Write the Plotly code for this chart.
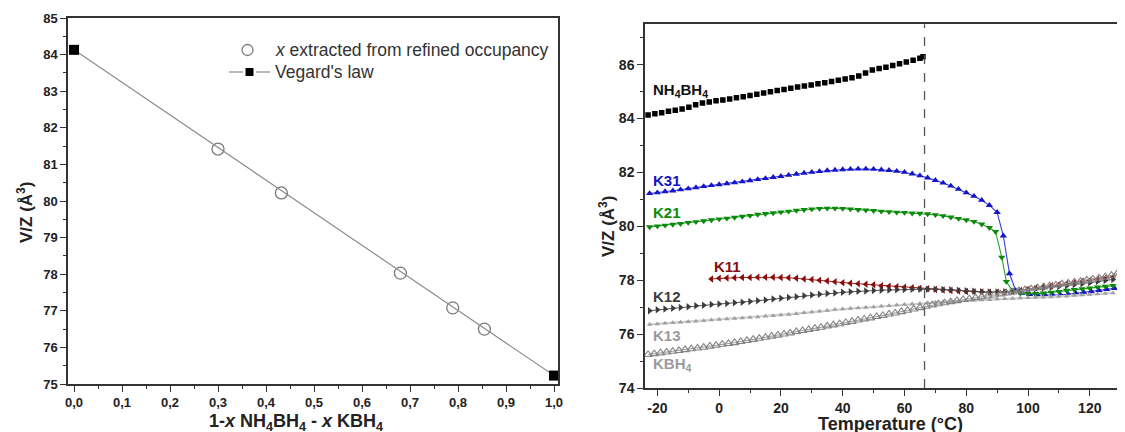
import plotly.graph_objects as go

# ---------------- Left panel data ----------------
occ_x = [0.30, 0.432, 0.68, 0.789, 0.855]
occ_v = [81.42, 80.22, 78.03, 77.08, 76.50]
veg_x = [0.0, 1.0]
veg_v = [84.13, 75.23]
left_xticks = [0.0, 0.1, 0.2, 0.3, 0.4, 0.5, 0.6, 0.7, 0.8, 0.9, 1.0]
left_xticktext = ["0,0", "0,1", "0,2", "0,3", "0,4", "0,5", "0,6", "0,7", "0,8", "0,9", "1,0"]
left_yticks = [75, 76, 77, 78, 79, 80, 81, 82, 83, 84, 85]
legend_labels = ["<i>x</i> extracted from refined occupancy", "Vegard's law"]

# ---------------- Right panel data ----------------
t_nh4 = [-23.0, -20.8, -18.6, -16.4, -14.2, -12.0, -9.8, -7.6, -5.4, -3.2, -1.0,
         1.2, 3.4, 5.6, 7.8, 10.0, 12.2, 14.4, 16.6, 18.8, 21.0, 23.2, 25.4,
         27.6, 29.8, 32.0, 34.2, 36.4, 38.6, 40.8, 43.0, 45.2, 47.4, 49.6,
         51.8, 54.0, 56.2, 58.4, 60.6, 62.8, 65.0, 66.0]
v_nh4 = [84.13, 84.18, 84.22, 84.27, 84.31, 84.36, 84.42, 84.51, 84.58, 84.62, 84.66,
         84.69, 84.73, 84.77, 84.81, 84.86, 84.90, 84.95, 85.00, 85.04, 85.08, 85.13,
         85.17, 85.21, 85.25, 85.29, 85.33, 85.38, 85.42, 85.47, 85.52, 85.58, 85.69,
         85.80, 85.86, 85.91, 85.97, 86.04, 86.10, 86.17, 86.24, 86.30]

t_k31 = [-22.5, -20, -17.5, -15, -12.5, -10, -7.5, -5, -2.5, 0, 2.5, 5, 7.5, 10,
         12.5, 15, 17.5, 20, 22.5, 25, 27.5, 30, 32.5, 35, 37.5, 40, 42.5, 45,
         47.5, 50, 52.5, 55, 57.5, 60, 62.5, 65, 67.5, 70, 72.5, 75, 77.5, 80,
         82.5, 85, 87.5, 90, 92, 94, 96, 98, 100.5, 103, 105.5, 108, 110.5, 113,
         115.5, 118, 120.5, 123, 125.5, 128]
v_k31 = [81.22, 81.25, 81.29, 81.32, 81.36, 81.40, 81.44, 81.48, 81.52, 81.55, 81.59,
         81.62, 81.66, 81.70, 81.74, 81.78, 81.82, 81.86, 81.90, 81.94, 81.98, 82.01,
         82.04, 82.07, 82.09, 82.11, 82.12, 82.13, 82.13, 82.12, 82.10, 82.08, 82.05,
         82.01, 81.95, 81.88, 81.80, 81.71, 81.61, 81.50, 81.38, 81.25, 81.12, 80.97,
         80.78, 80.52, 79.65, 78.25, 77.62, 77.52, 77.48, 77.46, 77.45, 77.45, 77.46,
         77.48, 77.52, 77.55, 77.58, 77.62, 77.66, 77.70]

t_k21 = [-22.5, -20, -17.5, -15, -12.5, -10, -7.5, -5, -2.5, 0, 2.5, 5, 7.5, 10,
         12.5, 15, 17.5, 20, 22.5, 25, 27.5, 30, 32.5, 35, 37.5, 40, 42.5, 45,
         47.5, 50, 52.5, 55, 57.5, 60, 62.5, 65, 67.5, 70, 72.5, 75, 77.5, 80,
         82.5, 85, 87.5, 89.5, 91.5, 93, 95, 97.5, 100, 102.5, 105, 107.5, 110,
         112.5, 115, 117.5, 120, 122.5, 125, 127.5]
v_k21 = [79.98, 80.01, 80.04, 80.07, 80.10, 80.14, 80.17, 80.20, 80.24, 80.27, 80.30,
         80.33, 80.37, 80.40, 80.44, 80.47, 80.50, 80.53, 80.56, 80.59, 80.62, 80.64,
         80.66, 80.67, 80.67, 80.66, 80.64, 80.62, 80.60, 80.58, 80.56, 80.54, 80.52,
         80.51, 80.49, 80.48, 80.46, 80.43, 80.39, 80.34, 80.29, 80.24, 80.18, 80.08,
         79.95, 79.80, 78.85, 77.95, 77.60, 77.52, 77.50, 77.50, 77.52, 77.55, 77.58,
         77.62, 77.65, 77.68, 77.71, 77.74, 77.77, 77.80]

t_k11 = [-2.5, 0, 2.5, 5, 7.5, 10, 12.5, 15, 17.5, 20, 22.5, 25, 27.5, 30, 32.5,
         35, 37.5, 40, 42.5, 45, 47.5, 50, 52.5, 55, 57.5, 60, 62.5, 65, 67.5, 70,
         72.5, 75, 77.5, 80, 82.5, 85, 87.5, 90, 92.5, 95, 97.5, 100, 102.5, 105,
         107.5, 110, 112.5, 115, 117.5, 120, 122.5, 125, 127.5]
v_k11 = [78.05, 78.07, 78.08, 78.09, 78.10, 78.10, 78.11, 78.11, 78.11, 78.10, 78.09,
         78.07, 78.05, 78.03, 78.00, 77.97, 77.94, 77.91, 77.89, 77.87, 77.85, 77.83,
         77.80, 77.78, 77.76, 77.74, 77.72, 77.70, 77.68, 77.66, 77.64, 77.62, 77.60,
         77.58, 77.57, 77.56, 77.55, 77.55, 77.56, 77.58, 77.62, 77.67, 77.72, 77.76,
         77.80, 77.84, 77.88, 77.92, 77.96, 78.00, 78.04, 78.08, 78.12]

t_k12 = [-22.5, -20, -17.5, -15, -12.5, -10, -7.5, -5, -2.5, 0, 2.5, 5, 7.5, 10,
         12.5, 15, 17.5, 20, 22.5, 25, 27.5, 30, 32.5, 35, 37.5, 40, 42.5, 45,
         47.5, 50, 52.5, 55, 57.5, 60, 62.5, 65, 67.5, 70, 72.5, 75, 77.5, 80,
         82.5, 85, 87.5, 90, 92.5, 95, 97.5, 100, 102.5, 105, 107.5, 110, 112.5,
         115, 117.5, 120, 122.5, 125, 127.5]
v_k12 = [76.87, 76.90, 76.93, 76.96, 76.99, 77.02, 77.05, 77.07, 77.10, 77.12, 77.14,
         77.16, 77.18, 77.21, 77.24, 77.27, 77.30, 77.33, 77.36, 77.39, 77.42, 77.45,
         77.48, 77.51, 77.53, 77.55, 77.57, 77.59, 77.60, 77.62, 77.63, 77.64, 77.65,
         77.66, 77.67, 77.67, 77.67, 77.67, 77.66, 77.65, 77.63, 77.61, 77.59, 77.57,
         77.56, 77.56, 77.57, 77.59, 77.62, 77.65, 77.68, 77.71, 77.74, 77.77, 77.80,
         77.84, 77.87, 77.91, 77.95, 77.99, 78.03]

t_k13 = t_k12
v_k13 = [76.36, 76.38, 76.40, 76.42, 76.44, 76.46, 76.48, 76.50, 76.52, 76.54, 76.56,
         76.58, 76.60, 76.62, 76.64, 76.66, 76.68, 76.71, 76.73, 76.76, 76.79, 76.82,
         76.85, 76.88, 76.91, 76.93, 76.95, 76.97, 76.99, 77.01, 77.03, 77.05, 77.08,
         77.10, 77.12, 77.14, 77.16, 77.18, 77.20, 77.21, 77.23, 77.25, 77.26, 77.27,
         77.28, 77.30, 77.31, 77.32, 77.34, 77.35, 77.36, 77.37, 77.38, 77.40, 77.41,
         77.43, 77.45, 77.47, 77.49, 77.51, 77.53]

t_kbh4 = [-23, -21, -19, -17, -15, -13, -11, -9, -7, -5, -3, -1, 1, 3, 5, 7, 9,
          11, 13, 15, 17, 19, 21, 23, 25, 27, 29, 31, 33, 35, 37, 39, 41, 43, 45,
          47, 49, 51, 53, 55, 57, 59, 61, 63, 65, 67, 69, 71, 73, 75, 77, 79, 81,
          83, 85, 87, 89, 91, 93, 95, 97, 99, 101, 103, 105, 107, 109, 111, 113,
          115, 117, 119, 121, 123, 125, 127, 129]
v_kbh4 = [75.24, 75.27, 75.30, 75.33, 75.36, 75.39, 75.42, 75.45, 75.48, 75.51, 75.55,
          75.58, 75.62, 75.65, 75.68, 75.72, 75.76, 75.80, 75.84, 75.88, 75.92, 75.96,
          76.00, 76.04, 76.09, 76.13, 76.17, 76.21, 76.25, 76.30, 76.34, 76.38, 76.43,
          76.47, 76.52, 76.56, 76.60, 76.65, 76.69, 76.74, 76.78, 76.83, 76.88, 76.93,
          76.98, 77.03, 77.08, 77.12, 77.16, 77.20, 77.24, 77.28, 77.31, 77.35, 77.38,
          77.42, 77.45, 77.49, 77.52, 77.56, 77.60, 77.64, 77.68, 77.72, 77.75, 77.79,
          77.82, 77.86, 77.89, 77.93, 77.96, 78.00, 78.04, 78.08, 78.12, 78.18, 78.26]

right_xticks = [-20, 0, 20, 40, 60, 80, 100, 120]
right_xticktext = ["-20", "0", "20", "40", "60", "80", "100", "120"]
right_yticks = [74, 76, 78, 80, 82, 84, 86]
transition_T = 66.5

FONT = "Liberation Sans, Arial, sans-serif"
AX = "#333333"
W, H = 1125, 432
OFF = 8  # page offset of the plot inside the browser window


def fx(xp):
    return (xp - OFF) / W


def fy(yp):
    return 1 - (yp - OFF) / H


fig = go.Figure()

# ---- left panel ----
fig.add_trace(go.Scatter(
    x=occ_x, y=occ_v, mode="markers", xaxis="x", yaxis="y", showlegend=False,
    name=legend_labels[0],
    marker=dict(symbol="circle-open", size=12, color="#7a7a7a", line=dict(width=1.3))))
fig.add_trace(go.Scatter(
    x=veg_x, y=veg_v, mode="lines+markers", xaxis="x", yaxis="y", showlegend=False,
    name=legend_labels[1], cliponaxis=False,
    line=dict(color="#8c8c8c", width=1.2),
    marker=dict(symbol="square", size=10, color="#000000")))


# ---- right panel ----
def series(t, v, name, symbol, mcolor, size, lcolor, lwidth, mode="lines+markers", open_=False):
    fig.add_trace(go.Scatter(
        x=t, y=v, mode=mode, xaxis="x2", yaxis="y2", name=name, showlegend=False,
        line=dict(color=lcolor, width=lwidth),
        marker=dict(symbol=symbol, size=size, color=mcolor,
                    line=dict(width=1.1 if open_ else 0, color=mcolor))))


series(t_nh4, v_nh4, "NH4BH4", "square", "#000000", 5.5, "#000000", 0, mode="markers")
series(t_k31, v_k31, "K31", "triangle-up", "#1414c8", 6.5, "#3a3ae0", 1.1)
series(t_k21, v_k21, "K21", "triangle-down", "#0a8a0a", 6.5, "#2aa02a", 1.1)
series(t_k11, v_k11, "K11", "triangle-left", "#8b0b0b", 6.5, "#a02020", 1.0)
series(t_k12, v_k12, "K12", "triangle-right", "#3c3c3c", 6.5, "#555555", 1.0)
series(t_k13, v_k13, "K13", "triangle-up", "#a0a0a0", 5, "#cfcfcf", 2.2)
series(t_kbh4, v_kbh4, "KBH4", "triangle-up-open", "#858585", 7.5, "#9a9a9a", 1.0, open_=True)

annotations = []


def label(xp, yp, text, color, size=14, **kw):
    annotations.append(dict(x=fx(xp), y=fy(yp), xref="paper", yref="paper", text=text,
                            showarrow=False, font=dict(family=FONT, size=size, color=color), **kw))


# right panel series labels
for (xp, yp, txt, col) in [
        (651, 90, "<b>NH<sub>4</sub>BH<sub>4</sub></b>", "#111111"),
        (651, 180, "<b>K31</b>", "#1414c8"),
        (651, 212, "<b>K21</b>", "#0a8a0a"),
        (712, 266, "<b>K11</b>", "#8b0b0b"),
        (651, 296, "<b>K12</b>", "#3c3c3c"),
        (651, 335, "<b>K13</b>", "#9a9a9a"),
        (651, 364, "<b>KBH<sub>4</sub></b>", "#9a9a9a")]:
    label(xp, yp, txt, col, size=15, xanchor="left", yanchor="middle")

# axis titles
label(25, 213, "<b>V/Z (Å<sup>3</sup>)</b>", "#222222", size=17, textangle=-90,
      xanchor="center", yanchor="middle")
label(296, 422, "<b>1-<i>x</i> NH<sub>4</sub>BH<sub>4</sub> - <i>x</i> KBH<sub>4</sub></b>",
      "#222222", size=18, xanchor="center", yanchor="middle")
label(607, 227, "<b>V/Z (Å<sup>3</sup>)</b>", "#222222", size=17, textangle=-90,
      xanchor="center", yanchor="middle")
label(890, 424, "<b>Temperature (°C)</b>", "#222222", size=18,
      xanchor="center", yanchor="middle")

# manual legend (left panel)
label(273, 50, legend_labels[0], "#333333", size=17.5, xanchor="left", yanchor="middle")
label(273, 72, legend_labels[1], "#333333", size=17.5, xanchor="left", yanchor="middle")
legend_shapes = [
    dict(type="circle", xref="paper", yref="paper",
         x0=fx(242), x1=fx(253), y0=fy(55.5), y1=fy(44.5),
         line=dict(color="#7a7a7a", width=1.3)),
    dict(type="line", xref="paper", yref="paper", x0=fx(229), x1=fx(243), y0=fy(72), y1=fy(72),
         line=dict(color="#8c8c8c", width=1.2)),
    dict(type="line", xref="paper", yref="paper", x0=fx(256), x1=fx(270), y0=fy(72), y1=fy(72),
         line=dict(color="#8c8c8c", width=1.2)),
    dict(type="rect", xref="paper", yref="paper", x0=fx(245.5), x1=fx(253.5),
         y0=fy(76), y1=fy(68), fillcolor="#000000", line=dict(width=0)),
]


def bold(lst):
    return ["<b>%s</b>" % s for s in lst]


tickfont_l = dict(family=FONT, size=13, color="#222222")
tickfont_r = dict(family=FONT, size=14, color="#222222")
common = dict(showgrid=False, zeroline=False, showline=True, linecolor=AX, linewidth=1.5,
              ticks="outside", tickcolor=AX, tickwidth=1.3, ticklen=6, automargin=False)

fig.update_layout(
    template="none",
    width=W, height=H, margin=dict(l=0, r=0, t=0, b=0, pad=0, autoexpand=False),
    paper_bgcolor="white", plot_bgcolor="white",
    font=dict(family=FONT),
    showlegend=False,
    xaxis=dict(domain=[fx(68), fx(558)], range=[-0.0125, 1.0083], anchor="y",
               tickmode="array", tickvals=left_xticks, ticktext=bold(left_xticktext),
               mirror=True, tickfont=tickfont_l,
               minor=dict(tickmode="array",
                          tickvals=[0.05, 0.15, 0.25, 0.35, 0.45, 0.55, 0.65, 0.75, 0.85, 0.95],
                          ticks="outside", ticklen=3, tickcolor=AX),
               **common),
    yaxis=dict(domain=[fy(384), fy(18)], range=[75, 85], anchor="x",
               tickmode="array", tickvals=left_yticks,
               ticktext=bold([str(v) for v in left_yticks]),
               mirror=True, tickfont=tickfont_l,
               minor=dict(dtick=0.5, tick0=75, ticks="outside", ticklen=3, tickcolor=AX),
               **common),
    xaxis2=dict(domain=[fx(645), fx(1125)], range=[-24, 131.4], anchor="y2",
                tickmode="array", tickvals=right_xticks, ticktext=bold(right_xticktext),
                mirror=True, tickfont=tickfont_r,
                minor=dict(dtick=10, tick0=0, ticks="outside", ticklen=3, tickcolor=AX),
                **common),
    yaxis2=dict(domain=[fy(388), fy(24.3)], range=[74, 87.5], anchor="x2",
                tickmode="array", tickvals=right_yticks,
                ticktext=bold([str(v) for v in right_yticks]), tickfont=tickfont_r,
                minor=dict(dtick=1, tick0=74, ticks="outside", ticklen=3, tickcolor=AX),
                **common),
    annotations=annotations,
    shapes=[dict(type="line", xref="x2", yref="y2 domain", x0=transition_T, x1=transition_T,
                 y0=0, y1=1, line=dict(color="#555555", width=1.3, dash="dash"))] + legend_shapes,
)

fig.write_html("out.html")
